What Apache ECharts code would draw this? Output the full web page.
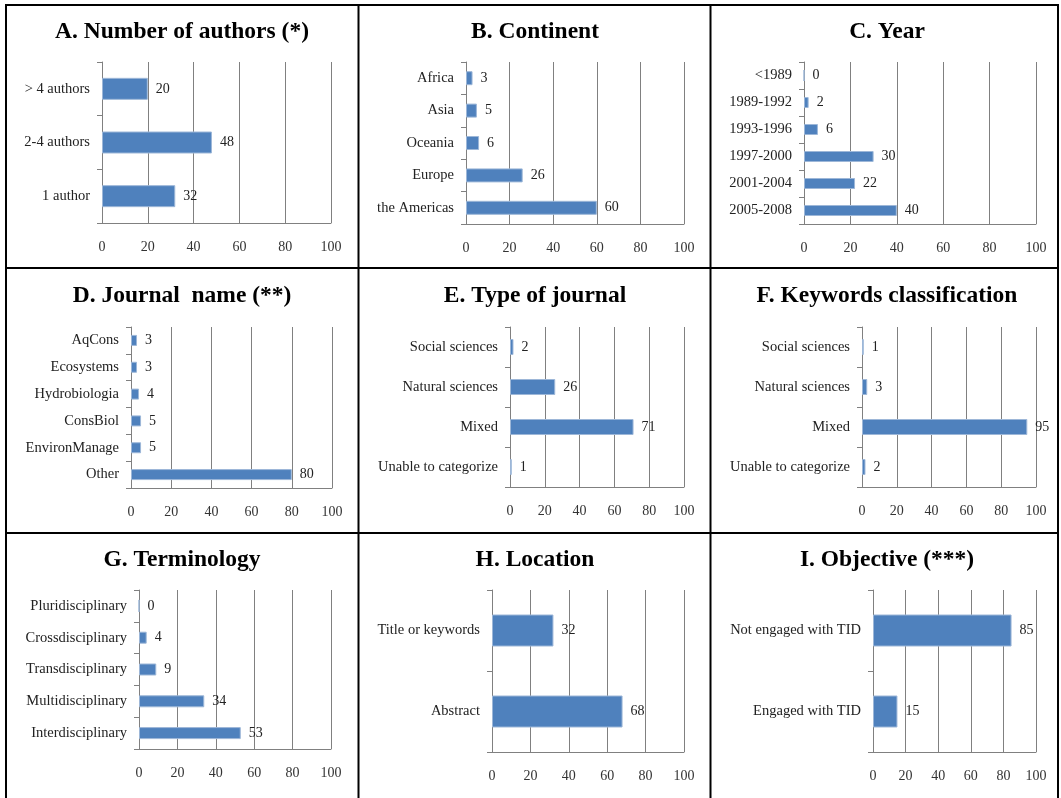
<!DOCTYPE html>
<html>
<head>
<meta charset="utf-8">
<script src="https://cdn.jsdelivr.net/npm/echarts@6/dist/echarts.min.js"></script>
<style>
html,body{margin:0;padding:0;background:#fff;}
#c{width:1061px;height:798px;}
</style>
</head>
<body>
<div id="c"></div>
<script>
// ---- data ----
var titles = ['A. Number of authors (*)','B. Continent','C. Year','D. Journal  name (**)','E. Type of journal','F. Keywords classification','G. Terminology','H. Location','I. Objective (***)'];
var catsA = ['> 4 authors','2-4 authors','1 author'];
var valsA = [20,48,32];
var catsB = ['Africa','Asia','Oceania','Europe','the Americas'];
var valsB = [3,5,6,26,60];
var catsC = ['<1989','1989-1992','1993-1996','1997-2000','2001-2004','2005-2008'];
var valsC = [0,2,6,30,22,40];
var catsD = ['AqCons','Ecosystems','Hydrobiologia','ConsBiol','EnvironManage','Other'];
var valsD = [3,3,4,5,5,80];
var catsE = ['Social sciences','Natural sciences','Mixed','Unable to categorize'];
var valsE = [2,26,71,1];
var catsF = ['Social sciences','Natural sciences','Mixed','Unable to categorize'];
var valsF = [1,3,95,2];
var catsG = ['Pluridisciplinary','Crossdisciplinary','Transdisciplinary','Multidisciplinary','Interdisciplinary'];
var valsG = [0,4,9,34,53];
var catsH = ['Title or keywords','Abstract'];
var valsH = [32,68];
var catsI = ['Not engaged with TID','Engaged with TID'];
var valsI = [85,15];
var xTicks = [0,20,40,60,80,100];

var cats = [catsA,catsB,catsC,catsD,catsE,catsF,catsG,catsH,catsI];
var vals = [valsA,valsB,valsC,valsD,valsE,valsF,valsG,valsH,valsI];

// ---- layout ----
var grids = [
  {left:102, top:62, width:229, height:161},
  {left:466, top:62, width:218, height:162},
  {left:804, top:62, width:232, height:162},
  {left:131, top:327, width:201, height:161},
  {left:510, top:327, width:174, height:160},
  {left:862, top:327, width:174, height:160},
  {left:139, top:590, width:192, height:159},
  {left:492, top:590, width:192, height:162},
  {left:873, top:590, width:163, height:162}
];
var barW = [22,14,11,11,16,16,12,32,32];
var titleX = [182,535,887];
var titleY = [32,296,560];

var FONT = '"Liberation Serif","Times New Roman",serif';
var GRAY = '#808080';

var opt = {
  backgroundColor:'#fff',
  animation:false,
  title:[], grid:[], xAxis:[], yAxis:[], series:[],
  graphic:[]
};

for (var i=0;i<9;i++){
  opt.title.push({
    text: titles[i], left: titleX[i%3], top: titleY[Math.floor(i/3)],
    textAlign:'center', textVerticalAlign:'middle', padding:0,
    textStyle:{fontFamily:FONT, fontWeight:'bold', fontSize:23.5, color:'#000'}
  });
  opt.grid.push(Object.assign({containLabel:false}, grids[i]));
  opt.xAxis.push({
    type:'value', gridIndex:i, min:xTicks[0], max:xTicks[xTicks.length-1], interval:xTicks[1]-xTicks[0],
    axisLine:{show:true, lineStyle:{color:GRAY, width:1}},
    axisTick:{show:false},
    splitLine:{show:true, lineStyle:{color:GRAY, width:1}},
    axisLabel:{margin:17, fontFamily:FONT, fontSize:14, color:'#333'}
  });
  opt.yAxis.push({
    type:'category', gridIndex:i, data:cats[i], inverse:true,
    axisLine:{show:true, lineStyle:{color:GRAY, width:1}},
    axisTick:{show:true, length:5, lineStyle:{color:GRAY}},
    axisLabel:{margin:12, fontFamily:FONT, fontSize:14.5, color:'#222'}
  });
  opt.series.push({
    type:'bar', xAxisIndex:i, yAxisIndex:i, data:vals[i], barWidth:barW[i],
    itemStyle:{color:'#4F81BD', borderColor:'#9DB7D8', borderWidth:1},
    label:{show:true, position:'right', distance:8, fontFamily:FONT, fontSize:14, color:'#222'}
  });
}

// panel borders
var vx = [6, 358.5, 710.5, 1058];
var hy = [5, 268, 533];
vx.forEach(function(x){
  opt.graphic.push({type:'line', shape:{x1:x, y1:4, x2:x, y2:798}, style:{stroke:'#000', lineWidth:2}, z:100});
});
hy.forEach(function(y){
  opt.graphic.push({type:'line', shape:{x1:5, y1:y, x2:1059, y2:y}, style:{stroke:'#000', lineWidth:2}, z:100});
});

var chart = echarts.init(document.getElementById('c'), null, {renderer:'canvas'});
chart.setOption(opt);
</script>
</body>
</html>
